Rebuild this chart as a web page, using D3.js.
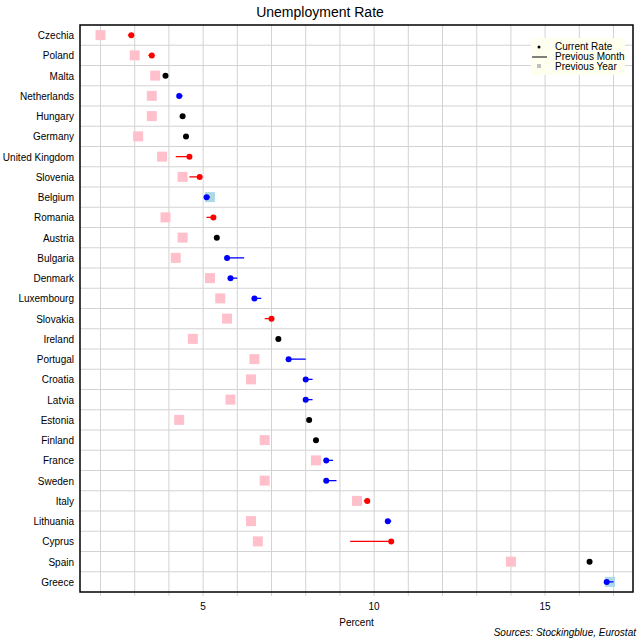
<!DOCTYPE html>
<html>
<head>
<script src="https://d3js.org/d3.v7.min.js"></script>
<style>
body { margin: 0; background: #fff; font-family: Arial, "Liberation Sans", sans-serif; }
</style>
</head>
<body>
<svg id="chart" width="640" height="640"></svg>
<script>
// Data
const countries = ["Czechia","Poland","Malta","Netherlands","Hungary","Germany","United Kingdom","Slovenia","Belgium","Romania","Austria","Bulgaria","Denmark","Luxembourg","Slovakia","Ireland","Portugal","Croatia","Latvia","Estonia","Finland","France","Sweden","Italy","Lithuania","Cyprus","Spain","Greece"];
const currentRate =   [2.9,3.5,3.9,4.3,4.4,4.5,4.6,4.9,5.1,5.3,5.4,5.7,5.8,6.5,7.0,7.2,7.5,8.0,8.0,8.1,8.3,8.6,8.6,9.8,10.4,10.5,16.3,16.8];
const previousMonth = [2.8,3.4,3.9,4.4,4.4,4.5,4.2,4.6,5.2,5.1,5.4,6.2,6.0,6.7,6.8,7.2,8.0,8.2,8.2,8.1,8.3,8.8,8.9,9.7,10.5,9.3,16.3,17.0];
const previousYear =  [2.0,3.0,3.6,3.5,3.5,3.1,3.8,4.4,5.2,3.9,4.4,4.2,5.2,5.5,5.7,4.7,6.5,6.4,5.8,4.3,6.8,8.3,6.8,9.5,6.4,6.6,14.0,16.9];
const xTicks = [5, 10, 15];

const svg = d3.select("#chart");
const mLeft = 80, mRight = 633, mTop = 25, mBottom = 592;

const x = d3.scaleLinear().domain([1.4, 17.57]).range([mLeft, mRight]);
const y = d3.scaleBand().domain(countries).range([mTop, mBottom]);

// grid
svg.selectAll(".vgrid").data(d3.range(2, 18)).enter().append("line")
  .attr("x1", d => x(d)).attr("x2", d => x(d)).attr("y1", mTop).attr("y2", mBottom)
  .attr("stroke", "#d3d3d3");
svg.selectAll(".hgrid").data(countries.slice(1)).enter().append("line")
  .attr("x1", mLeft).attr("x2", mRight).attr("y1", d => y(d)).attr("y2", d => y(d))
  .attr("stroke", "#d3d3d3");

// tick marks below axis
svg.selectAll(".tk").data(d3.range(2, 18)).enter().append("line")
  .attr("x1", d => x(d)).attr("x2", d => x(d)).attr("y1", mBottom).attr("y2", mBottom + 4)
  .attr("stroke", "#d3d3d3");

const rows = countries.map((c, i) => ({ c, cur: currentRate[i], pm: previousMonth[i], py: previousYear[i] }));
const col = d => d.cur > d.pm ? "red" : d.cur < d.pm ? "blue" : "black";

// previous year squares
svg.selectAll(".py").data(rows).enter().append("rect")
  .attr("x", d => x(d.py) - 5).attr("y", d => y(d.c) + y.bandwidth() / 2 - 5)
  .attr("width", 10).attr("height", 10)
  .attr("fill", d => Math.abs(d.py - d.cur) < 0.25 ? "#add8e6" : "#ffc0cb");

// previous month lines
svg.selectAll(".pm").data(rows).enter().append("line")
  .attr("x1", d => x(d.pm)).attr("x2", d => x(d.cur))
  .attr("y1", d => y(d.c) + y.bandwidth() / 2).attr("y2", d => y(d.c) + y.bandwidth() / 2)
  .attr("stroke", col).attr("stroke-width", 1.3);

// current points
svg.selectAll(".cur").data(rows).enter().append("circle")
  .attr("cx", d => x(d.cur)).attr("cy", d => y(d.c) + y.bandwidth() / 2)
  .attr("r", 3).attr("fill", col);

// frame
svg.append("rect").attr("x", mLeft).attr("y", mTop).attr("width", mRight - mLeft).attr("height", mBottom - mTop)
  .attr("fill", "none").attr("stroke", "#000").attr("stroke-width", 1.5);

// labels
svg.selectAll(".yl").data(countries).enter().append("text")
  .attr("x", mLeft - 6).attr("y", d => y(d) + y.bandwidth() / 2 + 4)
  .attr("text-anchor", "end").attr("font-size", 10).text(d => d);
svg.selectAll(".xl").data(xTicks).enter().append("text")
  .attr("x", d => x(d)).attr("y", mBottom + 18)
  .attr("text-anchor", "middle").attr("font-size", 10).text(d => d);

svg.append("text").attr("x", 320).attr("y", 17).attr("text-anchor", "middle").attr("font-size", 14).text("Unemployment Rate");
svg.append("text").attr("x", (mLeft + mRight) / 2).attr("y", 626).attr("text-anchor", "middle").attr("font-size", 10).text("Percent");
svg.append("text").attr("x", 636).attr("y", 636).attr("text-anchor", "end").attr("font-size", 10).attr("font-style", "italic").text("Sources: Stockingblue, Eurostat");

// legend
const lg = svg.append("g").attr("transform", "translate(531,38)");
lg.append("rect").attr("width", 94).attr("height", 37).attr("fill", "#fffff0");
lg.append("circle").attr("cx", 8).attr("cy", 9).attr("r", 1.5).attr("fill", "#000");
lg.append("line").attr("x1", 1).attr("x2", 16).attr("y1", 19).attr("y2", 19).attr("stroke", "#000");
lg.append("rect").attr("x", 6).attr("y", 26).attr("width", 4).attr("height", 4).attr("fill", "#c0c0c0");
["Current Rate", "Previous Month", "Previous Year"].forEach((t, i) =>
  lg.append("text").attr("x", 24).attr("y", 12 + i * 10).attr("font-size", 10).text(t));
</script>
</body>
</html>
